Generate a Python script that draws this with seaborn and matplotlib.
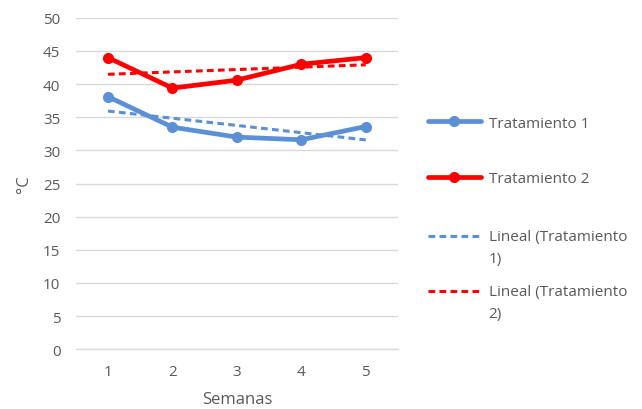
import numpy as np
import pandas as pd
import matplotlib
matplotlib.use('Agg')
import matplotlib.pyplot as plt
from matplotlib.legend_handler import HandlerLine2D
import seaborn as sns

semanas = [1, 2, 3, 4, 5]
tratamiento_1 = [38.1, 33.5, 32.0, 31.6, 33.6]
tratamiento_2 = [44.0, 39.4, 40.6, 43.0, 44.0]
y_ticks = [0, 5, 10, 15, 20, 25, 30, 35, 40, 45, 50]

azul = '#5B8FD6'
rojo = '#FF0000'
gris = '#595959'


class HandlerPrimeraLinea(HandlerLine2D):
	# sube la muestra a la altura de la primera linea del texto
	def __init__(self, shift, **kw):
		super().__init__(**kw)
		self.shift = shift

	def create_artists(self, legend, orig_handle, xdescent, ydescent, width, height, fontsize, trans):
		return super().create_artists(legend, orig_handle, xdescent, ydescent - 2 * self.shift,
			width, height, fontsize, trans)


sns.set_theme(style="white")
plt.rcParams['font.family'] = ['Open Sans', 'DejaVu Sans']

fig = plt.figure(figsize=(6.42, 4.10), dpi=100)
ax = fig.add_axes([0.118, 0.146, 0.502, 0.808])

df = pd.DataFrame({"semana": semanas, "t1": tratamiento_1, "t2": tratamiento_2})

# lineas de tendencia (regresion lineal, como en Excel)
for col in ["t1", "t2"]:
	p = np.polyfit(df["semana"], df[col], 1)
	df["lin_" + col] = np.polyval(p, df["semana"])

sns.lineplot(data=df, x="semana", y="t1", ax=ax, color=azul, lw=3.4, marker='o',
	markersize=8, markeredgewidth=0, label="Tratamiento 1", zorder=4)
sns.lineplot(data=df, x="semana", y="t2", ax=ax, color=rojo, lw=3.4, marker='o',
	markersize=8, markeredgewidth=0, label="Tratamiento 2", zorder=4)
sns.lineplot(data=df, x="semana", y="lin_t1", ax=ax, color=azul, lw=2.2,
	linestyle=(0, (2.2, 1.4)), label="Lineal (Tratamiento\n1)", zorder=3)
sns.lineplot(data=df, x="semana", y="lin_t2", ax=ax, color=rojo, lw=2.2,
	linestyle=(0, (2.2, 1.4)), label="Lineal (Tratamiento\n2)", zorder=3)

ax.set_xlim(0.5, 5.5)
ax.set_ylim(0, 50)
ax.set_xticks(semanas)
ax.set_yticks(y_ticks)
ax.yaxis.grid(True, color='#D9D9D9', lw=1)
ax.set_axisbelow(True)
for s in ['top', 'right', 'left']:
	ax.spines[s].set_visible(False)
ax.spines['bottom'].set_color('#D9D9D9')
ax.spines['bottom'].set_linewidth(1)
ax.tick_params(axis='both', length=0, labelsize=11, labelcolor=gris)
ax.tick_params(axis='y', pad=11)
ax.tick_params(axis='x', pad=11)
ax.set_xlabel("Semanas", fontsize=12, color=gris, labelpad=8.5)
ax.set_ylabel("°C", fontsize=12, color=gris, labelpad=8)

handles, labels = ax.get_legend_handles_labels()
ax.get_legend().remove()

# una leyenda por entrada, cada una en su hueco (como Excel)
centros = [124, 180, 248.5, 303.5]
for h, lab, yc in zip(handles, labels, centros):
	hmap = {}
	if "\n" in lab:
		hmap = {h: HandlerPrimeraLinea(shift=8.3)}
	leg = fig.legend([h], [lab], loc='center left', bbox_to_anchor=(0.666, 1 - yc / 410),
		frameon=False, fontsize=11, labelcolor=gris, handlelength=3.5,
		handletextpad=0.5, borderpad=0, borderaxespad=0, handler_map=hmap)
	for t in leg.get_texts():
		t.set_linespacing(1.7)

fig.savefig("out.png", dpi=100)
